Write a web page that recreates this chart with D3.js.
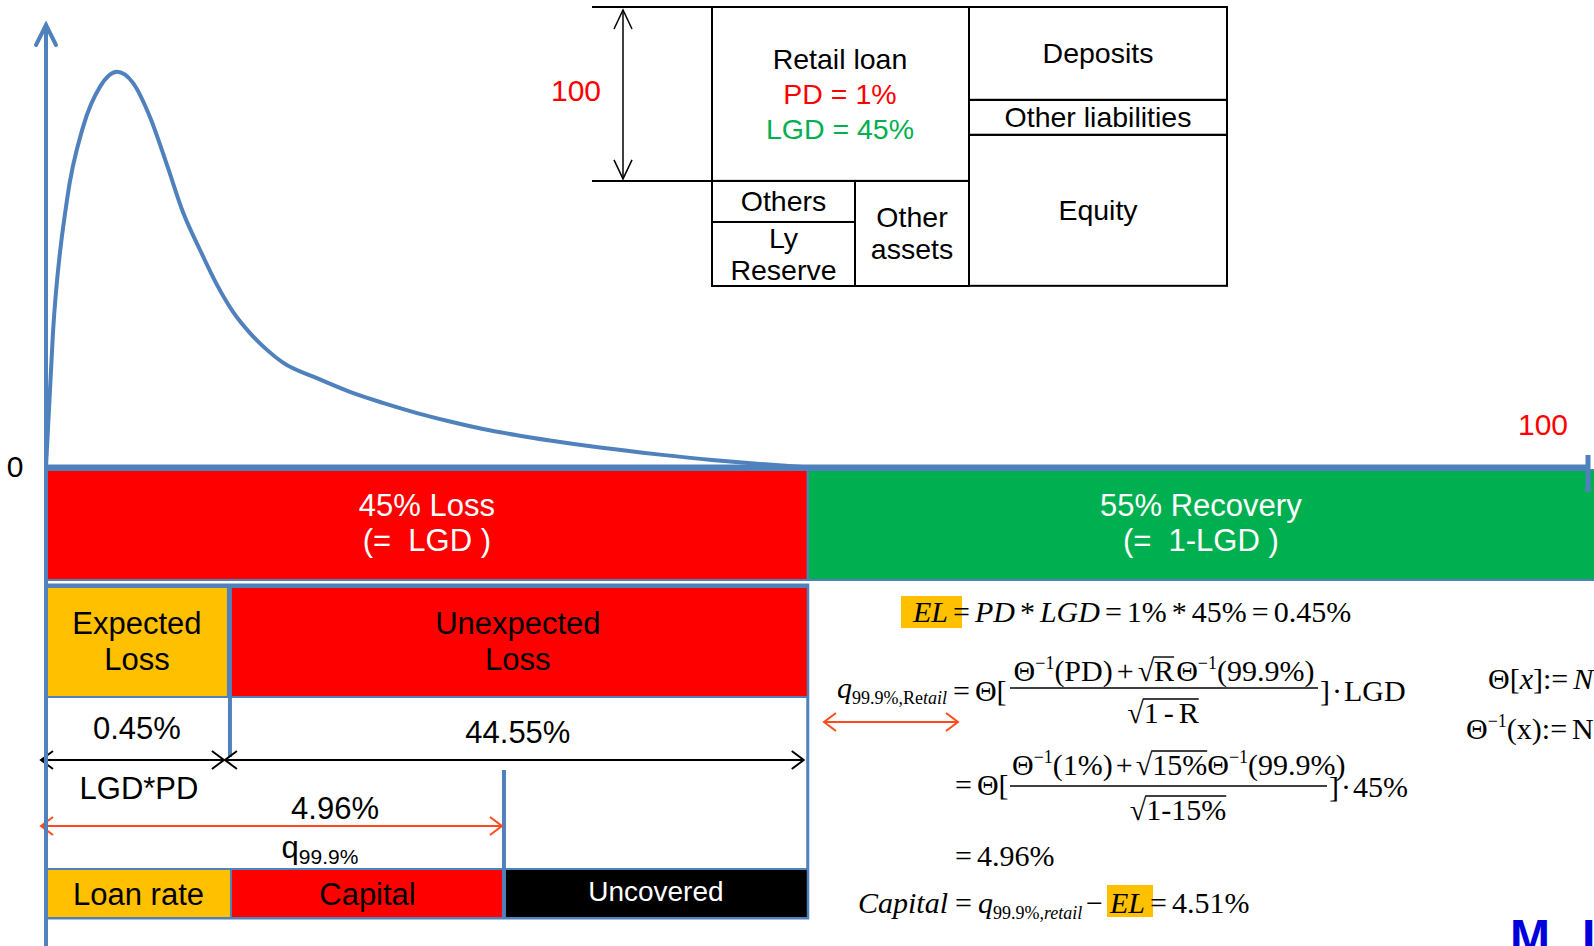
<!DOCTYPE html>
<html>
<head>
<meta charset="utf-8">
<script src="https://cdn.jsdelivr.net/npm/d3@7"></script>
<style>
  html, body { margin: 0; padding: 0; background: #fff; overflow: hidden; }
  svg { display: block; }
  text { white-space: pre; }
</style>
</head>
<body>
<svg id="chart" width="1594" height="946"></svg>
<script>
// loss distribution (axis units: x 0-100, density 0-100)
const curveX = [0, 0.45, 1.36, 2.40, 3.50, 4.60, 5.64, 6.74, 7.85, 8.88, 9.99, 11.09, 12.13, 13.23, 14.33, 15.37,
  17.57, 19.71, 21.85, 24.06, 26.2, 28.34, 30.54, 32.68, 35.93, 39.82, 43.19, 46.3, 49.1];
const curveY = [0, 30.3, 60.4, 76.9, 86.0, 89.4, 86.9, 79.2, 68.3, 57.7, 49.1, 41.2, 35.1, 30.3, 26.5, 23.6,
  20.1, 17.0, 14.5, 12.2, 10.3, 8.6, 7.2, 6.0, 4.4, 2.8, 1.6, 0.7, 0];

// LGD split of exposure
const lgdKeys = ["loss", "recovery"];
const lgdBounds = [0, 49.4, 101];
const lgdLabels = [["45% Loss", "(=  LGD )"], ["55% Recovery", "(=  1-LGD )"]];

// loss split
const lossKeys = ["el", "ul"];
const lossBounds = [0, 11.8, 49.4];
const lossLabels = [["Expected", "Loss"], ["Unexpected", "Loss"]];
const lossValues = ["0.45%", "44.55%"];
const elLabel = "LGD*PD";

// how the loss is covered
const coverKeys = ["loan", "capital", "uncovered"];
const coverBounds = [0, 12.0, 29.7, 49.4];
const coverLabels = ["Loan rate", "Capital", "Uncovered"];

const quantileAt = 29.7;
const quantileValue = "4.96%";

// balance sheet (retail loan = 100)
const assetTop = ["Retail loan"], assetTopValues = [100];
const assetLeft = ["Others", "Ly\nReserve"], assetLeftValues = [23.6, 36.8];
const assetRight = ["Other\nassets"], assetRightValues = [60.4];
const liabs = ["Deposits", "Other liabilities", "Equity"], liabValues = [53.4, 20.1, 86.8];
const loanNotes = ["PD = 1%", "LGD = 45%"];

const colors = {loss: "#ff0000", recovery: "#00b050", el: "#ffc000", ul: "#ff0000",
  loan: "#ffc000", capital: "#ff0000", uncovered: "#000000"};
const blue = "#4f81bd", arrowRed = "#ff4a1c";
const sans = "'Liberation Sans', Arial, sans-serif";
const serif = "'Liberation Serif', 'Times New Roman', serif";

const svg = d3.select("#chart");

const x = d3.scaleLinear().domain([0, 100]).range([46, 1588]);
const y = d3.scaleLinear().domain([0, 100]).range([467, 25]);

// ---------- bars ----------
function barRow(keys, bounds, y0, y1, sw) {
  return svg.append("g").selectAll("rect").data(keys).join("rect")
    .attr("x", (d, i) => x(bounds[i]))
    .attr("width", (d, i) => x(bounds[i + 1]) - x(bounds[i]))
    .attr("y", y0).attr("height", y1 - y0)
    .attr("fill", d => colors[d])
    .attr("stroke", blue).attr("stroke-width", sw);
}

function label(t, cx, cy, fs, fill) {
  svg.append("text").attr("x", cx).attr("y", cy).attr("dy", "0.35em")
    .attr("text-anchor", "middle").attr("font-family", sans)
    .attr("font-size", fs).attr("fill", fill || "#000").text(t);
}

barRow(lgdKeys, lgdBounds, 470, 580, 2);
lgdKeys.forEach((k, i) => {
  const cx = i === 0 ? (x(lgdBounds[0]) + x(lgdBounds[1])) / 2 : (x(lgdBounds[1]) + 1594) / 2;
  label(lgdLabels[i][0], cx, 505, 31, "#fff");
  label(lgdLabels[i][1], cx, 540, 31, "#fff");
});

// outer box of the loss part
svg.append("rect").attr("x", x(0)).attr("y", 585)
  .attr("width", x(lossBounds[2]) - x(0)).attr("height", 333)
  .attr("fill", "#fff").attr("stroke", blue).attr("stroke-width", 3);

barRow(lossKeys, lossBounds, 587, 697, 2);
lossKeys.forEach((k, i) => {
  const cx = (x(lossBounds[i]) + x(lossBounds[i + 1])) / 2;
  label(lossLabels[i][0], cx, 623, 31);
  label(lossLabels[i][1], cx, 659, 31);
});

barRow(coverKeys, coverBounds, 869, 918, 2);
coverLabels.forEach((t, i) => {
  const cx = (x(coverBounds[i]) + x(coverBounds[i + 1])) / 2;
  if (i === 2) label(t, cx, 891, 28, "#fff");
  else label(t, cx, 894, 31);
});

// dividers
svg.append("line").attr("x1", x(lossBounds[1]) + 2).attr("x2", x(lossBounds[1]) + 2)
  .attr("y1", 587).attr("y2", 757).attr("stroke", blue).attr("stroke-width", 4);
svg.append("line").attr("x1", x(quantileAt)).attr("x2", x(quantileAt))
  .attr("y1", 770).attr("y2", 918).attr("stroke", blue).attr("stroke-width", 4);

// double arrows
function dblArrow(x1, x2, yy, col, sw) {
  const g = svg.append("g").attr("stroke", col).attr("stroke-width", sw).attr("fill", "none");
  g.append("line").attr("x1", x1).attr("x2", x2).attr("y1", yy).attr("y2", yy);
  g.append("path").attr("d", `M${x1 + 12},${yy - 9}L${x1},${yy}L${x1 + 12},${yy + 9}`);
  g.append("path").attr("d", `M${x2 - 12},${yy - 9}L${x2},${yy}L${x2 - 12},${yy + 9}`);
}
dblArrow(x(0) - 5, x(lossBounds[1]) - 4, 760, "#000", 2);
dblArrow(x(lossBounds[1]) - 3, x(lossBounds[2]) - 4, 760, "#000", 2);
dblArrow(x(0) - 5, x(quantileAt) - 2, 826, arrowRed, 2);

label(lossValues[0], (x(lossBounds[0]) + x(lossBounds[1])) / 2, 728, 31);
label(lossValues[1], (x(lossBounds[1]) + x(lossBounds[2])) / 2, 732, 31);
label(elLabel, 139, 788, 31);
label(quantileValue, 335, 808, 31);
svg.append("text").attr("x", 320).attr("y", 847).attr("dy", "0.35em")
  .attr("text-anchor", "middle").attr("font-family", sans).attr("font-size", 31)
  .call(t => {
    t.append("tspan").text("q");
    t.append("tspan").attr("font-size", 21).attr("dy", 6).text("99.9%");
  });

// ---------- axes and curve ----------
svg.append("path")
  .datum(curveX.map((d, i) => [d, curveY[i]]))
  .attr("d", d3.line().x(d => x(d[0])).y(d => y(d[1])).curve(d3.curveMonotoneX))
  .attr("fill", "none").attr("stroke", blue).attr("stroke-width", 4);

const axes = svg.append("g").attr("stroke", blue).attr("fill", "none").attr("stroke-linecap", "round");
axes.append("line").attr("x1", x(0)).attr("x2", x(0)).attr("y1", 946).attr("y2", y(100))
  .attr("stroke-width", 4);
axes.append("path").attr("d", `M${x(0) - 10},${y(100) + 20}L${x(0)},${y(100)}L${x(0) + 10},${y(100) + 20}`)
  .attr("stroke-width", 4);
axes.append("line").attr("x1", x(0)).attr("x2", x(100)).attr("y1", y(0)).attr("y2", y(0))
  .attr("stroke-width", 5).attr("stroke-linecap", "butt");
axes.append("line").attr("x1", x(100)).attr("x2", x(100)).attr("y1", y(0) - 12).attr("y2", y(0) + 25)
  .attr("stroke-width", 5).attr("stroke-linecap", "butt");

svg.append("text").attr("x", 15).attr("y", 477).attr("text-anchor", "middle")
  .attr("font-family", sans).attr("font-size", 30).text("0");
svg.append("text").attr("x", 1543).attr("y", 435).attr("text-anchor", "middle")
  .attr("font-family", sans).attr("font-size", 30).attr("fill", "#ff0000").text("100");

// ---------- balance sheet ----------
const bsY = d3.scaleLinear().domain([0, 160.4]).range([7, 286]);
const bs = svg.append("g");
function bsStack(names, values, start, x0, x1) {
  let acc = start;
  names.forEach((n, i) => {
    const a = acc, b = acc + values[i];
    bs.append("rect").attr("x", x0).attr("y", bsY(a)).attr("width", x1 - x0).attr("height", bsY(b) - bsY(a))
      .attr("fill", "none").attr("stroke", "#000").attr("stroke-width", 2);
    const lines = n.split("\n");
    const cy = (bsY(a) + bsY(b)) / 2;
    lines.forEach((l, j) => {
      const off = lines.length === 1 ? 0 : (j === 0 ? -16 : 16);
      bs.append("text").attr("x", (x0 + x1) / 2).attr("y", cy + off).attr("dy", "0.35em")
        .attr("text-anchor", "middle").attr("font-family", sans).attr("font-size", 28.5).text(l);
    });
    acc = b;
  });
}
bs.append("rect").attr("x", 712).attr("y", bsY(0)).attr("width", 257).attr("height", bsY(assetTopValues[0]) - bsY(0))
  .attr("fill", "none").attr("stroke", "#000").attr("stroke-width", 2);
bs.append("text").attr("x", 840).attr("y", 59).attr("dy", "0.35em").attr("text-anchor", "middle")
  .attr("font-family", sans).attr("font-size", 28.5).text(assetTop[0]);
bs.append("text").attr("x", 840).attr("y", 94).attr("dy", "0.35em").attr("text-anchor", "middle")
  .attr("font-family", sans).attr("font-size", 28.5).attr("fill", "#ff0000").text(loanNotes[0]);
bs.append("text").attr("x", 840).attr("y", 129).attr("dy", "0.35em").attr("text-anchor", "middle")
  .attr("font-family", sans).attr("font-size", 28.5).attr("fill", "#00b050").text(loanNotes[1]);
bsStack(assetLeft, assetLeftValues, 100, 712, 855);
bsStack(assetRight, assetRightValues, 100, 855, 969);
bsStack(liabs, liabValues, 0, 969, 1227);

// 100 dimension
bs.append("line").attr("x1", 592).attr("x2", 712).attr("y1", bsY(0)).attr("y2", bsY(0)).attr("stroke", "#000").attr("stroke-width", 2);
bs.append("line").attr("x1", 592).attr("x2", 712).attr("y1", bsY(100)).attr("y2", bsY(100)).attr("stroke", "#000").attr("stroke-width", 2);
const dim = bs.append("g").attr("stroke", "#000").attr("stroke-width", 1.5).attr("fill", "none");
dim.append("line").attr("x1", 623).attr("x2", 623).attr("y1", bsY(0) + 3).attr("y2", bsY(100) - 2);
dim.append("path").attr("d", `M614,${bsY(0) + 22}L623,${bsY(0) + 3}L632,${bsY(0) + 22}`);
dim.append("path").attr("d", `M614,${bsY(100) - 21}L623,${bsY(100) - 2}L632,${bsY(100) - 21}`);
bs.append("text").attr("x", 576).attr("y", 90).attr("dy", "0.35em").attr("text-anchor", "middle")
  .attr("font-family", sans).attr("font-size", 30).attr("fill", "#ff0000").text("100");

// ---------- formulas ----------
const FS = 30;
// pieces: [text, kind, gapBefore]
function mathRow(g, pieces, x0, yy) {
  let cx = x0;
  pieces.forEach(([s, k, gap]) => {
    cx += gap || 0;
    const small = k === "sup" || k === "sub" || k === "subi";
    const t = g.append("text").attr("x", cx)
      .attr("y", yy + (k === "sup" ? -12 : small ? 6 : 0))
      .attr("font-family", serif).attr("font-size", small ? 18 : FS)
      .attr("word-spacing", -2.5)
      .attr("font-style", (k === "i" || k === "subi") ? "italic" : null)
      .text(s);
    const w = t.node().getComputedTextLength();
    if (k === "o") g.append("line").attr("x1", cx - 1).attr("x2", cx + w).attr("y1", yy - 24).attr("y2", yy - 24)
      .attr("stroke", "#000").attr("stroke-width", 1.4);
    cx += w;
  });
  return cx - x0;
}
function centered(pieces, cx, yy) {
  const g = svg.append("g");
  const w = mathRow(g, pieces, 0, yy);
  g.attr("transform", `translate(${cx - w / 2},0)`);
}
function bar(x1, x2, yy) {
  svg.append("line").attr("x1", x1).attr("x2", x2).attr("y1", yy).attr("y2", yy)
    .attr("stroke", "#000").attr("stroke-width", 1.4);
}
const fm = svg.append("g");

// EL
fm.append("rect").attr("x", 901).attr("y", 596).attr("width", 61).attr("height", 32).attr("fill", "#ffc000");
mathRow(fm, [["EL", "i"], [" = ", ""], ["PD", "i"], [" * ", ""], ["LGD", "i"], [" = 1% * 45% = 0.45%", ""]], 913, 622);

// quantile
mathRow(fm, [["q", "i"], ["99.9%,Re", "sub"], ["tail", "subi"]], 837, 698);
mathRow(fm, [["= Θ[", ""]], 953, 701);
centered([["Θ", ""], ["−1", "sup"], ["(PD)", ""], ["+", "", 4], ["√", "", 4], ["R", "o"], ["Θ", "", 2], ["−1", "sup"], ["(99.9%)", ""]], 1164, 681);
bar(1010, 1318, 688);
centered([["√", ""], ["1 - R", "o"]], 1163, 723);
mathRow(fm, [["]", ""], ["·", "", 2], ["LGD", "", 2]], 1320, 701);
dblArrow(824, 958, 722, arrowRed, 2);

mathRow(fm, [["= Θ[", ""]], 955, 795);
mathRow(fm, [["Θ", ""], ["−1", "sup"], ["(1%)", ""], ["+", "", 3], ["√", "", 3], ["15%", "o"], ["Θ", ""], ["−1", "sup"], ["(99.9%)", ""]], 1012, 775);
bar(1010, 1327, 786);
centered([["√", ""], ["1-15%", "o"]], 1178, 820);
mathRow(fm, [["]", ""], ["·", "", 2], ["45%", "", 2]], 1329, 797);

mathRow(fm, [["= 4.96%", ""]], 955, 866);

mathRow(fm, [["Capital", "i"]], 858, 913);
mathRow(fm, [["=", ""]], 955, 913);
mathRow(fm, [["q", "i"], ["99.9%,", "sub"], ["retail", "subi"]], 978, 913);
mathRow(fm, [["−", ""]], 1086, 913);
fm.append("rect").attr("x", 1107).attr("y", 885).attr("width", 46).attr("height", 32).attr("fill", "#ffc000");
mathRow(fm, [["EL", "i"], [" = 4.51%", ""]], 1110, 913);

mathRow(fm, [["Θ[", ""], ["x", "i"], ["]:= ", ""], ["N", "i"], ["(x)", ""]], 1488, 689);
mathRow(fm, [["Θ", ""], ["−1", "sup"], ["(x):= N", ""], ["−1", "sup"], ["(x)", ""]], 1466, 739);

// logo fragment
svg.append("text").attr("x", 1510).attr("y", 953).attr("font-family", sans).attr("font-weight", "bold")
  .attr("font-size", 48).attr("fill", "#0000dd").text("M");
svg.append("text").attr("x", 1582).attr("y", 953).attr("font-family", sans).attr("font-weight", "bold")
  .attr("font-size", 48).attr("fill", "#0000dd").text("I");
</script>
</body>
</html>
